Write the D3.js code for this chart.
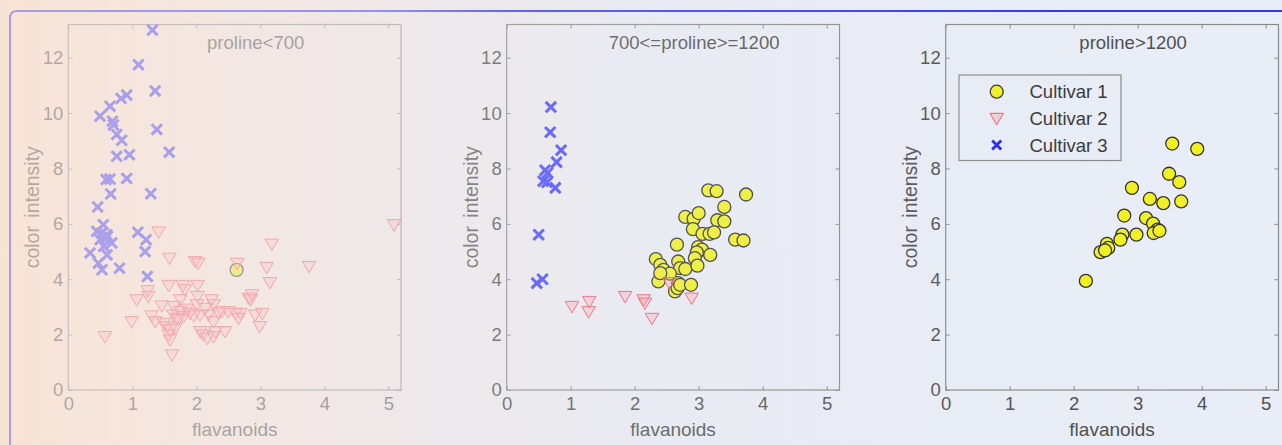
<!DOCTYPE html>
<html><head><meta charset="utf-8">
<script src="https://cdn.jsdelivr.net/npm/d3@7"></script>
<style>html,body{margin:0;padding:0;overflow:hidden;background:#eceef4}</style>
</head><body>
<svg id="chart" width="1282" height="445"></svg>
<script>
// ---------- data ----------
const xTicks = [0, 1, 2, 3, 4, 5];
const yTicks = [0, 2, 4, 6, 8, 10, 12];
const panelTitles = ["proline<700", "700<=proline>=1200", "proline>1200"];
const legendLabels = ["Cultivar 1", "Cultivar 2", "Cultivar 3"];
const xLabel = "flavanoids";
const yLabel = "color intensity";

// panel 1: proline < 700
const p1c1x = [2.63];
const p1c1y = [4.34];
const p1c2x = [5.09,1.41,3.18,1.58,1.98,2.03,2.64,3.10,3.76,3.15,1.57,1.79,2.02,1.82,1.24,1.25,1.07,1.75,2.02,2.24,2.27,2.82,2.85,1.46,1.65,1.85,2.01,2.14,2.40,2.50,2.61,2.69,1.30,1.36,1.64,1.70,1.75,1.80,1.90,1.96,2.06,2.19,2.27,1.49,1.54,1.59,1.57,1.59,1.62,0.99,0.57,2.06,2.11,2.17,2.27,2.30,2.45,2.92,3.03,2.99,2.66,2.87,1.67,1.72,2.35];
const p1c2y = [5.97,5.71,5.27,4.76,4.64,4.58,4.58,4.43,4.46,3.88,3.78,3.78,3.78,3.62,3.59,3.38,3.26,3.26,3.38,3.26,3.08,3.32,3.26,3.04,3.02,2.92,3.08,2.95,2.83,2.83,2.77,2.77,2.68,2.47,2.71,2.59,2.83,2.65,2.77,2.68,2.71,2.71,2.47,2.41,2.29,2.17,1.99,1.81,1.27,2.47,1.93,2.11,1.99,1.87,1.93,2.11,2.11,2.71,2.77,2.29,2.59,3.44,2.23,2.55,2.78];
const p1c3x = [1.315,1.096,1.357,0.913,0.825,0.652,0.496,0.689,0.705,1.383,0.757,0.835,1.576,0.757,0.955,0.590,0.652,0.913,0.663,1.289,0.459,1.086,1.216,1.200,1.236,0.800,0.340,0.470,0.527,0.548,0.444,0.523,0.600,0.496,0.679,0.553,0.606,0.61,0.58];
const p1c3y = [13.0,11.75,10.8,10.65,10.53,10.25,9.89,9.71,9.57,9.41,9.23,9.02,8.59,8.44,8.50,7.60,7.62,7.64,7.08,7.09,6.61,5.70,5.43,5.00,4.10,4.40,4.95,4.58,4.34,5.97,5.73,5.67,5.61,5.43,5.31,5.19,4.88,5.55,5.45];

// panel 2: 700 <= proline <= 1200
const p2c1x = [3.15,3.28,3.74,3.40,2.79,2.92,3.00,3.29,3.40,2.91,3.06,3.17,3.24,3.57,3.70,2.66,2.99,3.05,2.97,3.18,2.94,2.33,2.40,2.45,2.68,2.71,2.79,2.98,2.37,2.55,2.68,2.63,2.67,2.71,2.88,2.40];
const p2c1y = [7.21,7.18,7.06,6.61,6.25,6.18,6.39,6.13,6.09,5.81,5.64,5.64,5.69,5.43,5.40,5.25,5.16,5.07,4.97,4.88,4.76,4.73,4.52,4.34,4.64,4.40,4.37,4.49,3.92,4.20,3.86,3.56,3.68,3.80,3.80,4.22];
const p2c2x = [1.02,1.29,1.28,1.85,2.14,2.16,2.27,2.54,2.89];
const p2c2y = [3.02,3.20,2.83,3.38,3.26,3.14,2.59,3.88,3.32];
const p2c3x = [0.69,0.68,0.85,0.78,0.60,0.64,0.57,0.63,0.76,0.50,0.47,0.56];
const p2c3y = [10.22,9.31,8.66,8.23,7.94,7.84,7.54,7.50,7.30,5.61,3.86,4.00];

// panel 3: proline > 1200
const p3c1x = [3.54,3.93,3.49,3.65,2.91,3.19,3.40,3.68,2.79,3.13,3.24,3.31,3.25,3.34,2.98,2.76,2.73,2.52,2.54,2.42,2.49,2.19];
const p3c1y = [8.90,8.71,7.81,7.51,7.30,6.90,6.75,6.81,6.30,6.21,6.01,5.79,5.67,5.75,5.61,5.61,5.43,5.28,5.13,4.98,5.04,3.94];
const p3c2x = [];
const p3c2y = [];
const p3c3x = [];
const p3c3y = [];

// ---------- drawing ----------
const W = 1282, H = 445;
const svg = d3.select("#chart");
const defs = svg.append("defs");

const bgStops = [
  {o: 0, c: "#f8e4d7"},
  {o: 0.18, c: "#f3e7e2"},
  {o: 0.34, c: "#eee9ec"},
  {o: 0.5, c: "#e9ebf2"},
  {o: 1, c: "#e8edf7"}
];
const bg = defs.append("linearGradient").attr("id", "bg")
  .attr("gradientUnits", "userSpaceOnUse").attr("x1", 0).attr("x2", W).attr("y1", 0).attr("y2", 0);
bg.selectAll("stop").data(bgStops).join("stop")
  .attr("offset", d => d.o).attr("stop-color", d => d.c);

const fadeAlpha = o => o <= 0.3 ? 0.6 - o * 0.3 : o <= 0.4 ? 0.51 - (o - 0.3) * 2.6 : o <= 0.85 ? Math.max(0, 0.25 - (o - 0.4) * 0.55) : 0;
const ov = defs.append("linearGradient").attr("id", "ov")
  .attr("gradientUnits", "userSpaceOnUse").attr("x1", 0).attr("x2", W).attr("y1", 0).attr("y2", 0);
const ovOffsets = [0, 0.18, 0.3, 0.34, 0.4, 0.5, 0.6, 0.7, 0.85, 1];
const bgColorAt = d3.scaleLinear().domain(bgStops.map(d => d.o)).range(bgStops.map(d => d.c)).interpolate(d3.interpolateRgb);
ov.selectAll("stop").data(ovOffsets).join("stop")
  .attr("offset", d => d).attr("stop-color", d => bgColorAt(d)).attr("stop-opacity", d => fadeAlpha(d));

svg.append("rect").attr("width", W).attr("height", H).attr("fill", "url(#bg)");

// frame line
svg.append("path")
  .attr("d", "M10,445 L10,18 Q10,11 17,11 L1282,11")
  .attr("fill", "none").attr("stroke", "#3434f6").attr("stroke-width", 2);

const panels = [
  {left: 68.3, c1x: p1c1x, c1y: p1c1y, c2x: p1c2x, c2y: p1c2y, c3x: p1c3x, c3y: p1c3y},
  {left: 506.7, c1x: p2c1x, c1y: p2c1y, c2x: p2c2x, c2y: p2c2y, c3x: p2c3x, c3y: p2c3y},
  {left: 945.7, c1x: p3c1x, c1y: p3c1y, c2x: p3c2x, c2y: p3c2y, c3x: p3c3x, c3y: p3c3y}
];
const topY = 24.5, bottomY = 390, pw = 332.8;
const font = "'Liberation Sans', Arial, sans-serif";
const textCol = "#505050";

const triPath = "M-6.8,-5 L6.8,-5 L0,6.5 Z";
const crossPath = "M-5.2,-5.2 L5.2,5.2 M-5.2,5.2 L5.2,-5.2";
const legendCross = "M-4.5,-4.5 L4.5,4.5 M-4.5,4.5 L4.5,-4.5";

function drawC1(g, pts) {
  g.selectAll(null).data(pts).join("circle")
    .attr("cx", d => d[0]).attr("cy", d => d[1]).attr("r", 6.5)
    .attr("fill", "#f0f024").attr("stroke", "#333").attr("stroke-width", 1.3);
}
function drawC2(g, pts) {
  g.selectAll(null).data(pts).join("path")
    .attr("transform", d => `translate(${d[0]},${d[1]})`).attr("d", triPath)
    .attr("fill", "rgba(255,140,155,0.32)").attr("stroke", "#f25a68").attr("stroke-width", 1);
}
function drawC3(g, pts) {
  g.selectAll(null).data(pts).join("path")
    .attr("transform", d => `translate(${d[0]},${d[1]})`).attr("d", crossPath)
    .attr("fill", "none").attr("stroke", "#4343ff").attr("stroke-width", 3).attr("stroke-linecap", "butt");
}

panels.forEach((p, i) => {
  const x = d3.scaleLinear().domain([0, 5.2]).range([p.left, p.left + pw]);
  const y = d3.scaleLinear().domain([0, 13.2]).range([bottomY, topY]);
  const g = svg.append("g");

  g.append("rect").attr("x", x(0)).attr("y", y(13.2)).attr("width", x(5.2) - x(0)).attr("height", y(0) - y(13.2))
    .attr("fill", "none").attr("stroke", "#8a8a8a").attr("stroke-width", 1.2);

  const styleAxis = (sel) => {
    sel.select(".domain").remove();
    sel.selectAll(".tick line").attr("stroke", "#8a8a8a");
    sel.selectAll(".tick text").attr("fill", textCol).style("font-family", font).style("font-size", "18.5px");
  };
  g.append("g").attr("transform", `translate(0,${bottomY})`)
    .call(d3.axisBottom(x).tickValues(xTicks).tickSizeInner(-4).tickSizeOuter(0).tickPadding(7).tickFormat(d3.format("d")))
    .call(styleAxis);
  g.append("g").attr("transform", `translate(${p.left},0)`)
    .call(d3.axisLeft(y).tickValues(yTicks).tickSizeInner(-4).tickSizeOuter(0).tickPadding(5).tickFormat(d3.format("d")))
    .call(styleAxis);
  g.append("g").attr("transform", `translate(0,${topY})`)
    .call(d3.axisTop(x).tickValues(xTicks).tickSizeInner(-4).tickSizeOuter(0).tickFormat(""))
    .call(styleAxis);
  g.append("g").attr("transform", `translate(${p.left + pw},0)`)
    .call(d3.axisRight(y).tickValues(yTicks).tickSizeInner(-4).tickSizeOuter(0).tickFormat(""))
    .call(styleAxis);

  const cx = p.left + pw / 2;
  g.append("text").attr("x", cx).attr("y", 436).attr("text-anchor", "middle")
    .style("font-family", font).style("font-size", "19px").attr("fill", textCol).text(xLabel);
  g.append("text").attr("transform", `translate(${p.left - 29},${(topY + bottomY) / 2}) rotate(-90)`)
    .attr("text-anchor", "middle").style("font-family", font).style("font-size", "19.5px")
    .style("word-spacing", "3px")
    .attr("fill", textCol).text(yLabel);
  g.append("text").attr("x", cx + 21).attr("y", 49).attr("text-anchor", "middle")
    .style("font-family", font).style("font-size", "18.5px").attr("fill", textCol).text(panelTitles[i]);

  const mk = (xs, ys) => xs.map((v, k) => [x(v), y(ys[k])]);
  drawC1(g.append("g"), mk(p.c1x, p.c1y));
  drawC2(g.append("g"), mk(p.c2x, p.c2y));
  drawC3(g.append("g"), mk(p.c3x, p.c3y));

  if (i === 2) {
    const lg = g.append("g");
    lg.append("rect").attr("x", 959).attr("y", 75).attr("width", 162).attr("height", 85.5)
      .attr("fill", "none").attr("stroke", "#8a8a8a").attr("stroke-width", 1.2);
    const rows = [91.7, 118.3, 145];
    drawC1(lg.append("g"), [[996.7, rows[0]]]);
    drawC2(lg.append("g"), [[996.7, rows[1]]]);
    lg.append("path").attr("transform", `translate(996.7,${rows[2]})`).attr("d", legendCross)
      .attr("fill", "none").attr("stroke", "#2222ff").attr("stroke-width", 2.8);
    lg.selectAll("text.lab").data(legendLabels).join("text").attr("class", "lab")
      .attr("x", 1029.5).attr("y", (d, k) => rows[k] + 6.5)
      .style("font-family", font).style("font-size", "18.5px").attr("fill", "#3a3a3a").text(d => d);
  }
});

svg.append("rect").attr("width", W).attr("height", H).attr("fill", "url(#ov)").attr("pointer-events", "none");
</script>
</body></html>
